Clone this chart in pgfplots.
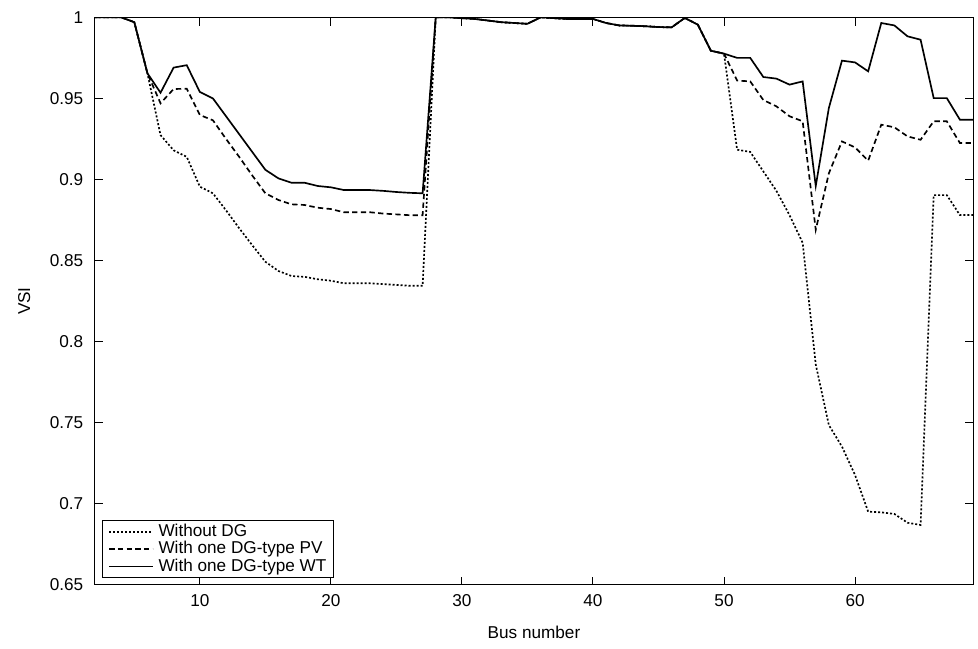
\documentclass[border=0pt]{standalone}
\usepackage{fontspec}
\setmainfont{Liberation Sans}
\usepackage{pgfplots}
\usepackage{pgfplotstable}
\pgfplotsset{compat=1.18}

% bus, without DG, with PV, with WT
\pgfplotstableread{
bus nodg pv wt
2 1.0 1.0 1.0
3 1.0 1.0 1.0
4 1.0 1.0 1.0
5 0.997 0.997 0.997
6 0.9655 0.9655 0.9655
7 0.9274 0.947 0.9535
8 0.918 0.9558 0.969
9 0.914 0.956 0.9705
10 0.8956 0.9398 0.954
11 0.8915 0.9365 0.950
12 0.881 0.925 0.939
13 0.870 0.914 0.928
14 0.8595 0.9025 0.917
15 0.8493 0.8915 0.906
16 0.8436 0.8874 0.9007
17 0.8405 0.8847 0.898
18 0.840 0.8843 0.898
19 0.8385 0.8826 0.896
20 0.8376 0.8818 0.8952
21 0.836 0.8798 0.8935
22 0.836 0.8798 0.8935
23 0.836 0.8798 0.8935
24 0.8355 0.879 0.893
25 0.835 0.8785 0.8923
26 0.8345 0.878 0.8918
27 0.8345 0.878 0.8915
28 1.0 1.0 1.0
29 1.0 1.0 1.0
30 0.9995 0.9995 0.9995
31 0.999 0.999 0.999
32 0.998 0.998 0.998
33 0.997 0.997 0.997
34 0.9965 0.9965 0.9965
35 0.996 0.996 0.996
36 1.0 1.0 1.0
37 0.9995 0.9995 0.9995
38 0.999 0.999 0.999
39 0.999 0.999 0.999
40 0.999 0.999 0.999
41 0.9965 0.9965 0.9965
42 0.995 0.995 0.995
43 0.9948 0.9948 0.9948
44 0.9945 0.9945 0.9945
45 0.994 0.994 0.994
46 0.9938 0.9938 0.9938
47 0.9996 0.9996 0.9996
48 0.9955 0.9955 0.9955
49 0.9794 0.9794 0.9794
50 0.9776 0.9776 0.9776
51 0.9184 0.961 0.975
52 0.917 0.9605 0.975
53 0.905 0.949 0.9632
54 0.893 0.9451 0.9622
55 0.878 0.939 0.9585
56 0.861 0.9359 0.9605
57 0.786 0.869 0.896
58 0.7486 0.9038 0.9441
59 0.7353 0.9235 0.9733
60 0.7178 0.9198 0.9722
61 0.6952 0.9116 0.9667
62 0.6948 0.9338 0.9965
63 0.6938 0.9322 0.995
64 0.6884 0.9266 0.9883
65 0.687 0.9245 0.9862
66 0.8904 0.9359 0.9502
67 0.8904 0.9359 0.9502
68 0.8781 0.9225 0.9369
69 0.8781 0.9225 0.9369
}\vsidata

\begin{document}
\begin{tikzpicture}
\begin{axis}[
  scale only axis,
  width=526.8pt, height=340.6pt,
  xmin=2, xmax=69, ymin=0.65, ymax=1,
  xtick={10,20,...,60},
  ytick={0.65,0.7,...,1.0},
  yticklabels={0.65,0.7,0.75,0.8,0.85,0.9,0.95,1},
  font=\fontsize{10.3}{12}\selectfont,
  /pgf/number format/assume math mode=true,
  axis line style={line width=0.6pt},
  major tick style={line width=0.6pt, black},
  major tick length=5pt,
  tick align=inside,
  yticklabel style={xshift=-3.5pt},
  xticklabel style={yshift=-2pt},
  xlabel={Bus number},
  ylabel={VSI},
  every axis x label/.style={at={(axis description cs:0.5,-0.083)}, anchor=center},
  every axis y label/.style={at={(axis description cs:-0.0807,0.5)}, rotate=90, anchor=center},
  legend cell align=left,
  legend style={at={(axis description cs:0.008,0.012)}, anchor=south west,
    draw=black, line width=0.6pt, inner xsep=3.5pt, inner ysep=1.5pt,
    row sep=0pt, column sep=2.5pt,
    nodes={inner sep=0.6pt, text height=7.3pt, text depth=1.9pt,
      font=\fontsize{10.3}{12}\selectfont}},
  legend image code/.code={\draw[#1,line width=1pt] (1.5pt,0pt) -- (27.5pt,0pt);},
  every axis plot/.append style={line width=1pt, black},
]
\addplot[dash pattern=on 1.2pt off 1.2pt] table[x=bus, y=nodg] {\vsidata};
\addlegendentry{Without DG}
\addplot[dash pattern=on 3.2pt off 2pt] table[x=bus, y=pv] {\vsidata};
\addlegendentry{With one DG-type PV}
\addplot[solid] table[x=bus, y=wt] {\vsidata};
\addlegendentry{With one DG-type WT}
\end{axis}
\path ([xshift=-57pt,yshift=-38.4pt]current axis.south west) rectangle ([xshift=3pt,yshift=10.4pt]current axis.north east);
\end{tikzpicture}
\end{document}
